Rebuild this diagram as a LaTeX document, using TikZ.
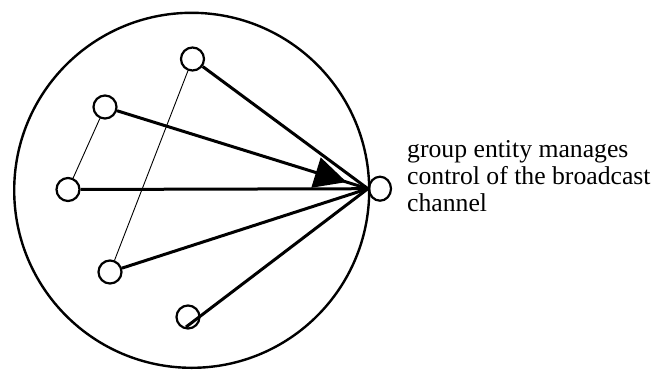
\documentclass[tikz,border=0pt]{standalone}
\usepackage{fontspec}
\setmainfont{Liberation Serif}
\usetikzlibrary{arrows.meta,decorations.markings,shapes.geometric}
\begin{document}
\begin{tikzpicture}[x=1pt,y=-1pt,
  entity/.style={circle,draw,line width=2.2pt,minimum size=23pt,inner sep=0pt},
  strong/.style={line width=3pt},
  weak/.style={line width=0.9pt},
  label/.style={anchor=base west,inner sep=0pt,align=left,font=\fontsize{25.7pt}{27pt}\selectfont}]
\useasboundingbox (0,0) rectangle (660,370);
\node[circle,draw,line width=2.4pt,minimum size=355pt,inner sep=0pt] (group) at (191.7,190.3) {};
\node[entity] (A) at (192.5,59) {};
\node[entity] (B) at (105,107) {};
\node[entity] (C) at (68,189.5) {};
\node[entity] (D) at (110,272) {};
\node[entity] (E) at (188,317) {};
\node[draw,ellipse,line width=2.2pt,inner sep=0pt,minimum width=22pt,minimum height=24pt] (H) at (380,188.7) {};
\coordinate (Eend) at (186,327);
\draw[weak] (B) -- (C);
\draw[weak] (A) -- (D);
\draw[strong] (A) -- (H.west);
\draw[strong,postaction={decorate},decoration={markings,mark=at position 0.915 with {\arrow{Triangle[length=32pt,width=31pt]}}}] (B) -- (H.west);
\draw[strong] (C) -- (H.west);
\draw[strong] (D) -- (H.west);
\draw[strong] (Eend) -- (H.west);
\node[label] (txt) at (407,211) {group entity manages\\control of the broadcast\\channel};
\end{tikzpicture}
\end{document}
